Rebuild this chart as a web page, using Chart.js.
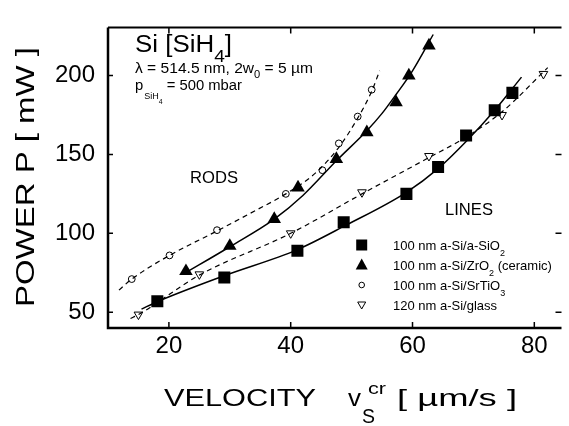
<!DOCTYPE html>
<html><head><meta charset="utf-8">
<script src="https://cdn.jsdelivr.net/npm/chart.js@4/dist/chart.umd.min.js"></script>
<style>html,body{margin:0;padding:0;background:#fff}</style>
</head><body>
<canvas id="c" width="569" height="426"></canvas>
<script>
// ---- data ----
const xTicks = [20, 40, 60, 80];
const yTicks = [50, 100, 150, 200];

// 100 nm a-Si/a-SiO2 (filled squares)
const sioX = [18.1, 29.1, 41.1, 48.7, 59.0, 64.2, 68.8, 73.5, 76.4];
const sioY = [57, 72, 89, 107, 125, 142, 162, 178, 189];
// 100 nm a-Si/ZrO2 (filled triangles)
const zroX = [22.8, 30.0, 37.3, 41.2, 47.5, 52.5, 57.3, 59.4, 62.7];
const zroY = [76, 92, 109, 129, 147, 164, 183, 200, 219];
// 100 nm a-Si/SrTiO3 (open circles)
const stoX = [13.9, 20.1, 27.9, 39.2, 45.2, 47.9, 51.0, 53.3];
const stoY = [71, 86, 102, 125, 140, 157, 174, 191];
// 120 nm a-Si/glass (open down triangles)
const glsX = [15.0, 25.0, 40.0, 51.7, 62.7, 68.8, 74.7, 81.5];
const glsY = [48.5, 74, 100, 126, 149, 162, 175, 201];

// fitted curves
const fitSioX = [15.5, 18, 29, 41, 49, 59, 64.2, 69, 73.5, 77.9];
const fitSioY = [52, 56.5, 73, 89.5, 105, 126, 141, 159, 178, 199];
const fitZroX = [22.3, 30, 37.3, 42, 47.5, 52.5, 55, 57.3, 60, 63.4];
const fitZroY = [74, 91.5, 109, 124, 146, 165, 176, 188, 203, 226];
const fitStoX = [11.8, 13.9, 20.1, 27.9, 34, 39.2, 44, 48, 51, 53.3, 54.6];
const fitStoY = [64, 71, 86, 101.5, 114, 125, 138, 155, 173, 190, 203];
const fitGlsX = [13.7, 15, 25, 40, 51.7, 62.7, 68.8, 74.7, 82.2];
const fitGlsY = [46, 48.5, 73.5, 100, 125, 148, 161, 177, 205];

const legendLabels = [
  ['100 nm a-Si/a-SiO', '2', ''],
  ['100 nm a-Si/ZrO', '2', ' (ceramic)'],
  ['100 nm a-Si/SrTiO', '3', ''],
  ['120 nm a-Si/glass', '', '']
];

const FONT = '"Liberation Sans", Arial, Helvetica, sans-serif';
const zip = (xs, ys) => xs.map((x, i) => ({x, y: ys[i]}));

// draw a run of text pieces [{t, s (px), dy}] starting at x, baseline y,
// optionally stretched horizontally to a target width
function drawRun(ctx, x, y, pieces, target) {
  ctx.save();
  ctx.textAlign = 'left';
  ctx.textBaseline = 'alphabetic';
  let nat = 0;
  pieces.forEach(p => { ctx.font = p.s + 'px ' + FONT; p.w = ctx.measureText(p.t).width; nat += p.w + (p.gap || 0); });
  const sx = target ? target / nat : 1;
  ctx.translate(x, y);
  ctx.scale(sx, 1);
  let cx = 0;
  pieces.forEach(p => { ctx.font = p.s + 'px ' + FONT; ctx.fillText(p.t, cx, p.dy || 0); cx += p.w + (p.gap || 0); });
  ctx.restore();
}

function marker(ctx, type, x, y) {
  ctx.save();
  ctx.fillStyle = '#000'; ctx.strokeStyle = '#000'; ctx.lineWidth = 1;
  ctx.beginPath();
  if (type === 'sq') { ctx.rect(x - 5.5, y - 5.5, 11, 11); ctx.fill(); }
  else if (type === 'tri') { ctx.moveTo(x, y - 6.5); ctx.lineTo(x + 6, y + 4.5); ctx.lineTo(x - 6, y + 4.5); ctx.closePath(); ctx.fill(); }
  else if (type === 'circ') { ctx.arc(x, y, 2.8, 0, Math.PI * 2); ctx.fillStyle = '#fff'; ctx.fill(); ctx.stroke(); }
  else { ctx.moveTo(x - 4, y - 3); ctx.lineTo(x + 4, y - 3); ctx.lineTo(x, y + 4); ctx.closePath(); ctx.fillStyle = '#fff'; ctx.fill(); ctx.stroke(); }
  ctx.restore();
}

const decor = {
  id: 'decor',
  afterDraw(chart) {
    const ctx = chart.ctx, a = chart.chartArea;
    const xs = chart.scales.x, ys = chart.scales.y;
    ctx.save();
    ctx.strokeStyle = '#000'; ctx.fillStyle = '#000';
    // frame (right edge lies at the cropped border of the figure)
    ctx.lineWidth = 2.5;
    ctx.beginPath(); ctx.moveTo(a.left, a.top); ctx.lineTo(a.left, a.bottom); ctx.lineTo(a.right + 1, a.bottom); ctx.stroke();
    ctx.lineWidth = 2;
    ctx.beginPath(); ctx.moveTo(a.left, a.top); ctx.lineTo(a.right + 1, a.top); ctx.stroke();
    // inward ticks
    ctx.lineWidth = 1.5;
    ctx.beginPath();
    xTicks.forEach(v => { const p = xs.getPixelForValue(v);
      ctx.moveTo(p, a.bottom); ctx.lineTo(p, a.bottom - 6);
      ctx.moveTo(p, a.top); ctx.lineTo(p, a.top + 6); });
    yTicks.forEach(v => { const p = ys.getPixelForValue(v);
      ctx.moveTo(a.left, p); ctx.lineTo(a.left + 5, p);
      ctx.moveTo(a.right + 1, p); ctx.lineTo(a.right - 5, p); });
    ctx.stroke();

    // annotations
    drawRun(ctx, 135, 52, [{t: 'Si [SiH', s: 23}, {t: '4', s: 17, dy: 10}, {t: ']', s: 23}], 97);
    drawRun(ctx, 135, 73, [{t: '\u03bb = 514.5 nm, 2w', s: 14}, {t: '0', s: 10, dy: 5}, {t: ' = 5 \u00b5m', s: 14}], 178);
    drawRun(ctx, 135, 90, [{t: 'p', s: 14, gap: 1}, {t: 'SiH', s: 8.5, dy: 9}, {t: '4', s: 6.5, dy: 14}, {t: ' = 500 mbar', s: 14}], 107);
    drawRun(ctx, 190, 183, [{t: 'RODS', s: 17}], 48);
    drawRun(ctx, 445, 215, [{t: 'LINES', s: 17}], 48);

    // legend
    const rows = [245, 265, 285, 305];
    const types = ['sq', 'tri', 'circ', 'dtri'];
    rows.forEach((ry, i) => {
      marker(ctx, types[i], 361.7, ry);
      const [main, sub, tail] = legendLabels[i];
      const pcs = [{t: main, s: 13}];
      if (sub) pcs.push({t: sub, s: 9, dy: 6});
      if (tail) pcs.push({t: tail, s: 13});
      drawRun(ctx, 393, ry + 5, pcs);
    });

    // axis titles
    drawRun(ctx, 164, 406, [{t: 'VELOCITY', s: 24}], 152);
    drawRun(ctx, 348, 406, [{t: 'v', s: 24}], 13);
    drawRun(ctx, 362, 423, [{t: 'S', s: 20}], 13);
    drawRun(ctx, 368, 394, [{t: 'cr', s: 17}], 18);
    drawRun(ctx, 397, 406, [{t: '[ \u00b5m/s ]', s: 24}], 120);

    ctx.save();
    ctx.translate(34, 307);
    ctx.rotate(-Math.PI / 2);
    drawRun(ctx, 0, 0, [{t: 'POWER P [ mW ]', s: 25}], 260);
    ctx.restore();
    ctx.restore();
  }
};

const lineDs = (xs, ys, dash) => ({
  data: zip(xs, ys), showLine: true, pointRadius: 0, borderColor: '#000',
  borderWidth: dash ? 1.2 : 1.5, borderDash: dash ? [5, 4] : [],
  cubicInterpolationMode: 'monotone', fill: false
});

new Chart(document.getElementById('c'), {
  type: 'scatter',
  data: {
    datasets: [
      lineDs(fitSioX, fitSioY, false),
      lineDs(fitZroX, fitZroY, false),
      lineDs(fitStoX, fitStoY, true),
      lineDs(fitGlsX, fitGlsY, true),
      { data: zip(sioX, sioY), pointStyle: 'rect', pointRadius: 8.5, backgroundColor: '#000', borderColor: '#000', borderWidth: 0 },
      { data: zip(zroX, zroY), pointStyle: 'triangle', pointRadius: 7.8, backgroundColor: '#000', borderColor: '#000', borderWidth: 0 },
      { data: zip(stoX, stoY), pointStyle: 'circle', pointRadius: 3.4, backgroundColor: '#fff', borderColor: '#000', borderWidth: 1 },
      { data: zip(glsX, glsY), pointStyle: 'triangle', rotation: 180, pointRadius: 5, backgroundColor: '#fff', borderColor: '#000', borderWidth: 1 }
    ]
  },
  options: {
    responsive: false, animation: false, devicePixelRatio: 1,
    layout: { padding: { left: 0, top: 10, right: 1, bottom: 0 } },
    plugins: { legend: { display: false }, tooltip: { enabled: false } },
    scales: {
      x: {
        type: 'linear', min: 10, max: 84.3,
        afterBuildTicks: s => { s.ticks = xTicks.map(v => ({ value: v })); },
        afterFit: s => { s.height = 98; },
        grid: { display: false, drawTicks: false }, border: { display: false },
        ticks: { color: '#000', padding: 4, font: { size: 24, family: FONT }, maxRotation: 0 }
      },
      y: {
        type: 'linear', min: 40, max: 230.5,
        afterBuildTicks: s => { s.ticks = yTicks.map(v => ({ value: v })); },
        afterFit: s => { s.width = 108; },
        grid: { display: false, drawTicks: false }, border: { display: false },
        ticks: { color: '#000', padding: 13, font: { size: 24, family: FONT } }
      }
    }
  },
  plugins: [decor]
});
</script>
</body></html>
